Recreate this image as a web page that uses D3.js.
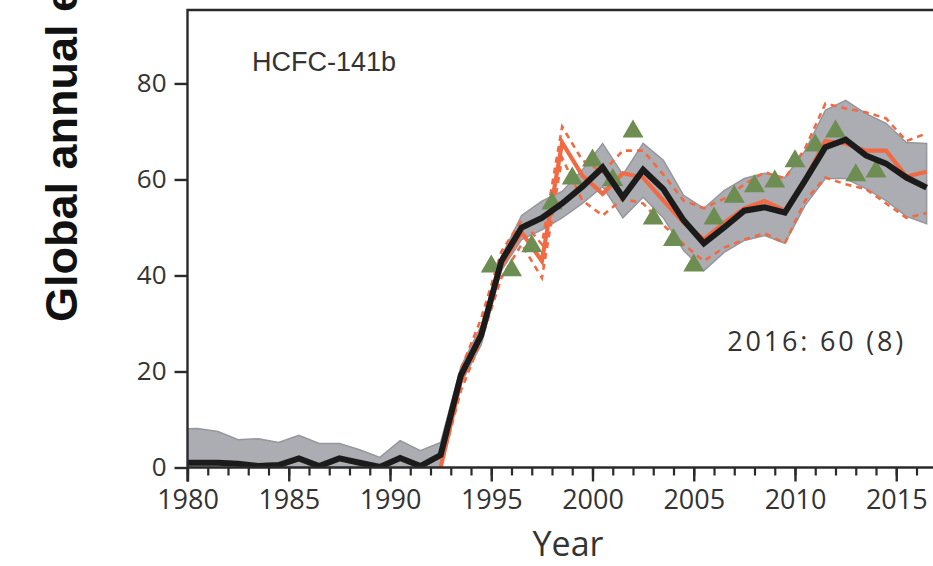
<!DOCTYPE html>
<html>
<head>
<meta charset="utf-8">
<script src="https://cdn.jsdelivr.net/npm/d3@7"></script>
<style>
  html, body { margin: 0; padding: 0; background: #fff; }
  svg { display: block; }
</style>
</head>
<body>
<svg id="chart" width="933" height="566"></svg>
<script>
// ---- data (emissions, Gg/yr) ----
// model-derived estimate: plotted at mid-year
const modelYears = d3.range(1979, 2017);
const modelMean  = [1.0, 1.0, 1.0, 0.8, 0.3, 0.5, 1.9, 0.3, 1.9, 1.0, 0.1, 2.0, 0.3, 2.6,
                    19.2, 27.5, 43, 50, 52, 55, 58.5, 62.5, 56.3, 62, 58, 51.5, 46.7, 50,
                    53.5, 54.2, 53.1, 59.8, 66.7, 68.3, 65, 63.3, 60.4, 58.3];
const modelUpper = [8.0, 8.1, 7.5, 5.8, 6.0, 5.2, 6.7, 5.0, 5.0, 3.7, 2.1, 5.6, 3.5, 5.2,
                    21, 29.5, 44, 52.5, 55.5, 57.5, 62, 67.5, 61, 67.5, 64, 56.7, 54, 57.7,
                    60.2, 61.3, 60.4, 66, 74.4, 76.5, 73.7, 71.7, 67.7, 67.5];
const modelLower = [0, 0, 0, 0, 0, 0, 0, 0, 0, 0, 0, 0, 0, 0,
                    17.5, 25.5, 41, 47.5, 49.5, 52, 55, 58.5, 52, 56.3, 52, 45.2, 41, 44.8,
                    47.3, 48.3, 46.7, 54.6, 60.2, 60.2, 58.1, 55.6, 52.3, 50.8];

// second estimate (orange) with its uncertainty bounds
const altYears = d3.range(1992, 2017);
const altMean  = [0, 18, 28.5, 42, 49, 43, 67.7, 60.8, 57, 61.3, 60.4, 55.6, 51, 47.5, 51,
                  54, 55.5, 53.5, 60, 68, 67.5, 66, 66, 60.6, 61.6];
const altUpper = [0.5, 20.5, 31, 45, 51.5, 46.5, 71, 64, 61.5, 66, 66, 61, 55.6, 54, 56,
                  59, 61.5, 60.2, 66.5, 75.8, 74.8, 74, 72.7, 68, 69.6];
const altLower = [0, 16, 26.5, 39.5, 46.5, 39.5, 64.5, 55.6, 52.5, 56, 55, 50.5, 46.5, 43, 45.8,
                  47.5, 48.8, 46.7, 55.6, 60.4, 59, 58, 55, 52, 53];

// reported values (green triangles)
const obsYears  = d3.range(1995, 2015);
const obsValues = [42.5, 41.7, 46.7, 55.6, 60.8, 64.6, 60.5, 70.6, 52.5, 48, 42.7, 52.5,
                   57, 59.2, 60.2, 64.4, 67.7, 70.6, 61.5, 62.3];

const yTicks = [0, 20, 40, 60, 80];
const xMajorTicks = d3.range(1980, 2016, 5);
const xMinorTicks = d3.range(1980, 2017, 1);

const chartLabel = "HCFC-141b";
const noteLabel = "2016: 60 (8)";
const xTitle = "Year";
const yTitle = "Global annual emissions (Gg/yr)";

// ---- layout ----
const svg = d3.select("#chart");
const W = 933, H = 566;
const pLeft = 187.5, pTop = 10, pBottom = 467.5;

const x = d3.scaleLinear().domain([1980, 2017]).range([pLeft, pLeft + 37 * 20.25]);
const y = d3.scaleLinear().domain([0, 95.3]).range([pBottom, pTop]);
const mid = yr => x(yr + 0.5);

svg.append("defs").append("clipPath").attr("id", "plotclip")
  .append("rect").attr("x", pLeft).attr("y", pTop).attr("width", W - pLeft).attr("height", pBottom - pTop);

const plot = svg.append("g").attr("clip-path", "url(#plotclip)");

// gray band
const model = modelYears.map((yr, i) => ({yr, m: modelMean[i], u: modelUpper[i], l: modelLower[i]}));
plot.append("path")
  .datum(model)
  .attr("d", d3.area().x(d => mid(d.yr)).y0(d => y(d.l)).y1(d => y(d.u)))
  .attr("fill", "#abadb2")
  .attr("stroke", "#95979c")
  .attr("stroke-width", 1.5);

// orange dashed bounds
const alt = altYears.map((yr, i) => ({yr, m: altMean[i], u: altUpper[i], l: altLower[i]}));
["u", "l"].forEach(k => {
  plot.append("path")
    .datum(alt)
    .attr("d", d3.line().x(d => mid(d.yr)).y(d => y(d[k])))
    .attr("fill", "none")
    .attr("stroke", "#f26a43")
    .attr("stroke-width", 2.6)
    .attr("stroke-dasharray", "6,5");
});

// orange solid
plot.append("path")
  .datum(alt)
  .attr("d", d3.line().x(d => mid(d.yr)).y(d => y(d.m)))
  .attr("fill", "none")
  .attr("stroke", "#f26a43")
  .attr("stroke-width", 4.2);

// triangles
const triW = 21, triH = 18;
const triPath = `M0,${-triH/2}L${triW/2},${triH/2}L${-triW/2},${triH/2}Z`;
plot.selectAll("path.obs")
  .data(obsYears.map((yr, i) => ({yr, v: obsValues[i]})))
  .join("path")
  .attr("class", "obs")
  .attr("transform", d => `translate(${x(d.yr)},${y(d.v)})`)
  .attr("d", triPath)
  .attr("fill", "#6e8d52");

// black mean
plot.append("path")
  .datum(model)
  .attr("d", d3.line().x(d => mid(d.yr)).y(d => y(d.m)))
  .attr("fill", "none")
  .attr("stroke", "#1b1b1b")
  .attr("stroke-width", 6);

// ---- axes ----
const tickFont = "'Open Sans', 'DejaVu Sans', sans-serif";
const axisColor = "#2a2a2a";

const yAxis = svg.append("g").attr("transform", `translate(${pLeft},0)`)
  .call(d3.axisLeft(y).tickValues(yTicks).tickSize(13).tickSizeOuter(0).tickPadding(8));
yAxis.select(".domain").remove();
yAxis.selectAll("line").attr("stroke", axisColor).attr("stroke-width", 2.4);
yAxis.selectAll("text").attr("font-family", tickFont).attr("font-size", 26).attr("fill", "#333");

const xMinor = svg.append("g").attr("transform", `translate(0,${pBottom})`)
  .call(d3.axisBottom(x).tickValues(xMinorTicks).tickSize(8).tickFormat(""));
xMinor.select(".domain").remove();
xMinor.selectAll("line").attr("stroke", axisColor).attr("stroke-width", 2.2);

const xAxis = svg.append("g").attr("transform", `translate(0,${pBottom})`)
  .call(d3.axisBottom(x).tickValues(xMajorTicks).tickSize(14).tickPadding(8).tickFormat(d3.format("d")));
xAxis.select(".domain").remove();
xAxis.selectAll("line").attr("stroke", axisColor).attr("stroke-width", 2.4);
xAxis.selectAll("text").attr("font-family", tickFont).attr("font-size", 27).attr("fill", "#333");

// frame lines
svg.append("path")
  .attr("d", `M${pLeft},${pBottom}L${W},${pBottom}`)
  .attr("stroke", axisColor).attr("stroke-width", 2.4);
svg.append("path")
  .attr("d", `M${pLeft},${pBottom + 14}L${pLeft},${pTop}L${W},${pTop}`)
  .attr("fill", "none")
  .attr("stroke", axisColor).attr("stroke-width", 2.4);

// ---- texts ----
svg.append("text")
  .attr("x", 252).attr("y", 71)
  .attr("font-family", "'Liberation Sans', Arial, sans-serif")
  .attr("font-size", 27).attr("fill", "#333")
  .text(chartLabel);

svg.append("text")
  .attr("x", 906).attr("y", 351)
  .attr("text-anchor", "end")
  .attr("font-family", tickFont)
  .attr("font-size", 27).attr("letter-spacing", 2.8).attr("fill", "#333")
  .text(noteLabel);

svg.append("text")
  .attr("x", 568).attr("y", 556)
  .attr("text-anchor", "middle")
  .attr("font-family", tickFont)
  .attr("font-size", 34).attr("fill", "#333")
  .text(xTitle);

svg.append("text")
  .attr("transform", "translate(77,322) rotate(-90)")
  .attr("font-family", "'Liberation Sans', Arial, sans-serif")
  .attr("font-weight", "bold")
  .attr("font-size", 45).attr("fill", "#111")
  .text(yTitle);
</script>
</body>
</html>
